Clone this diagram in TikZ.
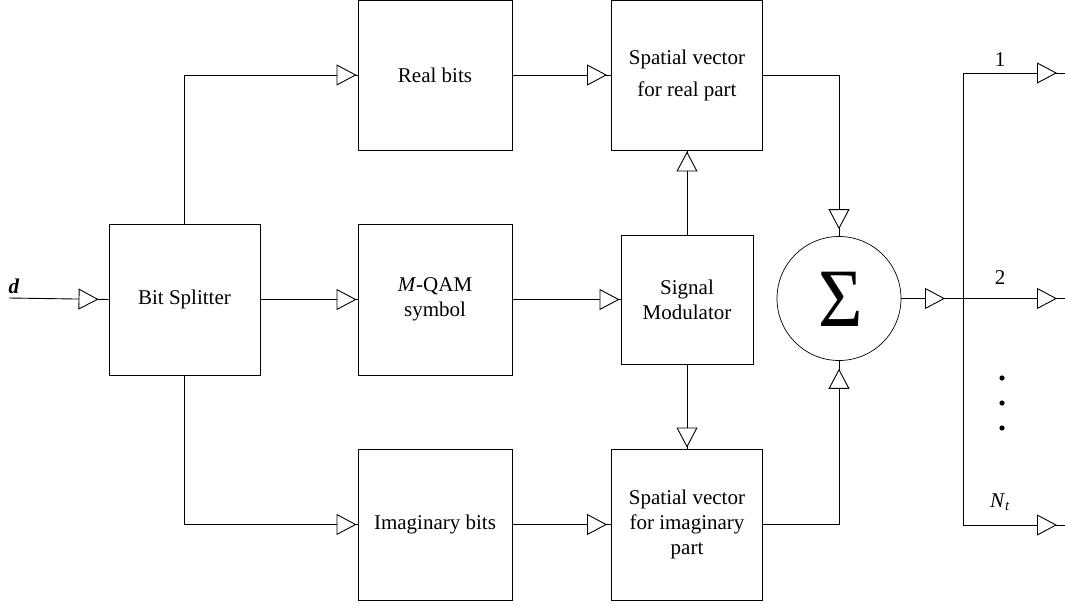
\documentclass[tikz,border=0pt]{standalone}
\usepackage{fontspec}
\setmainfont{Liberation Serif}
\usepackage{graphicx}
\usetikzlibrary{arrows.meta,decorations.markings}

\tikzset{
  blk/.style={draw, align=center, inner sep=2pt, font=\fontsize{21}{25}\selectfont},
  lbl/.style={inner sep=0pt, font=\fontsize{21}{25}\selectfont},
  % open triangle placed on a connector, #1 = distance of its tip from the path end
  tri/.style={postaction={decorate, decoration={markings,
      mark=at position #1 with {\arrow{Triangle[length=20pt,width=21pt,fill=white,line width=0.9pt]}}}}},
  wire/.style={draw, line width=0.9pt},
}

\begin{document}
\begin{tikzpicture}[x=1pt, y=-1pt, line width=0.9pt]
\useasboundingbox (0,0) rectangle (1065,605);

% blocks
\node[blk, minimum width=151, minimum height=151] (bs)  at (184.5,299.5) {Bit Splitter};
\node[blk, minimum width=154, minimum height=150] (rb)  at (435,75)      {Real bits};
\node[blk, minimum width=154, minimum height=151] (mq)  at (435,299.5)   {\textit{M}-QAM\\symbol};
\node[blk, minimum width=154, minimum height=151] (ib)  at (435,524.5)   {Imaginary bits};
\node[blk, minimum width=151, minimum height=150, font=\fontsize{21}{32}\selectfont] (svr) at (687,75) {Spatial vector\\for real part};
\node[blk, minimum width=132, minimum height=129] (sm)  at (687,299.5)   {Signal\\Modulator};
\node[blk, minimum width=151, minimum height=151] (svi) at (687,524.5)   {Spatial vector\\for imaginary\\part};

% summing junction
\node[draw, circle, line width=0.7pt, minimum size=124, inner sep=0pt] (sum) at (839,298.5) {};
\node[anchor=base, inner sep=0pt, font=\fontsize{83}{83}\selectfont] (sg) at (841,326) {\scalebox{0.92}[1]{Σ}};

% input
\coordinate (din) at (9,298);
\node[lbl, anchor=base, font=\fontsize{21}{25}\selectfont\bfseries\itshape] (dl) at (14,293) {d};

% output bus
\coordinate (b1) at (963,73);
\coordinate (b2) at (963,298.5);
\coordinate (b3) at (963,525);
\coordinate (o1) at (1066,73);
\coordinate (o2) at (1066,298.5);
\coordinate (o3) at (1066,525);

% connectors
\path[wire, tri=-10pt] (din) -- (bs.west);
\path[wire, tri=-1pt] (bs.north) |- (rb.west);
\path[wire, tri=-1pt] (bs.east) -- (mq.west);
\path[wire, tri=-1pt] (bs.south) |- (ib.west);
\path[wire, tri=-4pt] (rb.east) -- (svr.west);
\path[wire, tri=-1pt] (mq.east) -- (sm.west);
\path[wire, tri=-4pt] (ib.east) -- (svi.west);
\path[wire, tri=-1pt] (sm.north) -- (svr.south);
\path[wire, tri=-1pt] (sm.south) -- (svi.north);
\path[wire, tri=-7pt] (svr.east) -| (sum.north);
\path[wire, tri=-8pt] (svi.east) -| (sum.south);
\path[wire, tri=-18pt] (sum.east) -- (b2);
\path[wire] (b1) -- (b3);
\path[wire, tri=-9pt] (b1) -- (o1);
\path[wire, tri=-9pt] (b2) -- (o2);
\path[wire, tri=-9pt] (b3) -- (o3);

% output labels
\node[lbl] (l1) at (1000,60)  {1};
\node[lbl] (l2) at (1000,278) {2};
\node[lbl] (l3) at (1000,502) {\textit{N}\textsubscript{\textit{t}}};
\fill (1002,378) circle (2.6pt);
\fill (1002,403) circle (2.6pt);
\fill (1002,428) circle (2.6pt);
\end{tikzpicture}
\end{document}
